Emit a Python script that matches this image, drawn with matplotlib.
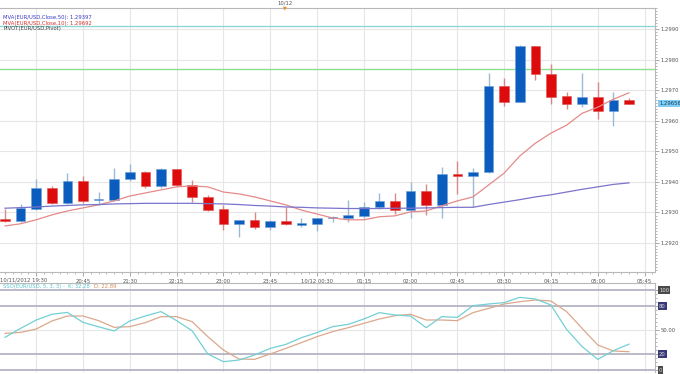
import numpy as np
import matplotlib
matplotlib.use("Agg")
import matplotlib.pyplot as plt
import matplotlib.transforms as mtransforms

# 15 minute EUR/USD candles, 10/11/2012 19:30 -> 10/12/2012 05:30
opens = [1.29279, 1.29272, 1.29312, 1.29381, 1.29330, 1.29403, 1.29341, 1.29341, 1.29409, 1.29432,
         1.29388, 1.29442, 1.29390, 1.29352, 1.29311, 1.29263, 1.29274, 1.29254, 1.29273, 1.29260,
         1.29263, 1.29281, 1.29281, 1.29290, 1.29317, 1.29339, 1.29308, 1.29372, 1.29323, 1.29425,
         1.29421, 1.29432, 1.29715, 1.29662, 1.29845, 1.29753, 1.29681, 1.29654, 1.29677, 1.29633,
         1.29668]
highs = [1.29312, 1.29328, 1.29409, 1.29387, 1.29428, 1.29420, 1.29368, 1.29445, 1.29459, 1.29437,
         1.29445, 1.29444, 1.29407, 1.29358, 1.29325, 1.29275, 1.29303, 1.29274, 1.29319, 1.29282,
         1.29282, 1.29289, 1.29341, 1.29334, 1.29365, 1.29365, 1.29401, 1.29393, 1.29450, 1.29469,
         1.29447, 1.29758, 1.29742, 1.29849, 1.29847, 1.29788, 1.29695, 1.29757, 1.29728, 1.29695,
         1.29676]
lows = [1.29269, 1.29269, 1.29308, 1.29328, 1.29328, 1.29332, 1.29323, 1.29338, 1.29403, 1.29379,
        1.29379, 1.29387, 1.29334, 1.29305, 1.29241, 1.29221, 1.29245, 1.29241, 1.29260, 1.29252,
        1.29238, 1.29270, 1.29270, 1.29282, 1.29312, 1.29295, 1.29281, 1.29292, 1.29281, 1.29361,
        1.29319, 1.29429, 1.29649, 1.29662, 1.29733, 1.29657, 1.29638, 1.29646, 1.29605, 1.29584,
        1.29655]
closes = [1.29272, 1.29314, 1.29381, 1.29330, 1.29403, 1.29338, 1.29343, 1.29409, 1.29432, 1.29388,
          1.29442, 1.29390, 1.29352, 1.29308, 1.29263, 1.29274, 1.29254, 1.29273, 1.29262, 1.29263,
          1.29281, 1.29282, 1.29292, 1.29317, 1.29339, 1.29308, 1.29372, 1.29323, 1.29425, 1.29421,
          1.29432, 1.29715, 1.29662, 1.29845, 1.29753, 1.29679, 1.29654, 1.29677, 1.29633, 1.29668,
          1.29656]

ma10 = [1.29256, 1.29263, 1.29276, 1.29292, 1.29305, 1.29315, 1.29325, 1.29338, 1.29354, 1.29364,
        1.29374, 1.29384, 1.29387, 1.29384, 1.29367, 1.29361, 1.29351, 1.29338, 1.29325, 1.29308,
        1.29295, 1.29282, 1.29276, 1.29276, 1.29286, 1.29289, 1.29302, 1.29305, 1.29322, 1.29338,
        1.29351, 1.29390, 1.29429, 1.29485, 1.29527, 1.29560, 1.29586, 1.29625, 1.29645, 1.29671,
        1.29692]
ma50 = [1.29314, 1.29316, 1.29318, 1.29321, 1.29323, 1.29325, 1.29326, 1.29328, 1.29329, 1.29330,
        1.29330, 1.29330, 1.29330, 1.29329, 1.29328, 1.29326, 1.29323, 1.29321, 1.29318, 1.29317,
        1.29315, 1.29314, 1.29313, 1.29313, 1.29313, 1.29314, 1.29314, 1.29315, 1.29316, 1.29317,
        1.29317, 1.29326, 1.29334, 1.29342, 1.29351, 1.29358, 1.29367, 1.29376, 1.29384, 1.29392,
        1.29397]

pivot_level = 1.29911
resist_level = 1.29769
last_price = 1.29656

stoch_k = [40.8, 52, 62.5, 69.6, 72, 59.6, 54, 48.8, 61.3, 67.5, 73, 61.7, 49, 20, 10.4, 12.5,
           18.75, 27, 32, 40.4, 46.7, 54.2, 57, 63.7, 71.7, 68.75, 67.5, 52.9, 66.7, 65.8, 80.4,
           82.5, 84.2, 90.8, 88.75, 81.25, 50.8, 29.2, 13.3, 24.2, 32.28]
stoch_d = [45.8, 47, 51.2, 61.2, 67.5, 67.5, 61.7, 53.3, 54.2, 59.2, 66.7, 66.7, 60.4, 41.7, 25,
           13.75, 13.3, 20, 27, 34.2, 41.7, 47.9, 52.9, 58.3, 63.75, 67.9, 69.6, 62.5, 62.5, 61.7,
           71.7, 77, 82.5, 85.4, 87.5, 86.25, 73, 52, 31.25, 23.75, 22.89]

tick_idx = [2, 5, 8, 11, 14, 17, 20, 23, 26, 29, 32, 35, 38, 41]
tick_labels = ["", "20:45", "21:30", "22:15", "23:00", "23:45", "10/12 00:30", "01:15",
               "02:00", "02:45", "03:30", "04:15", "05:00", "05:45"]
price_ticks = [1.2920, 1.2930, 1.2940, 1.2950, 1.2960, 1.2970, 1.2980, 1.2990]

W, H = 680, 374
fig = plt.figure(figsize=(W / 100, H / 100), dpi=100)
fig.patch.set_facecolor("white")

def box(x0, y0, x1, y1):
    return [x0 / W, 1 - y1 / H, (x1 - x0) / W, (y1 - y0) / H]

ax = fig.add_axes(box(0, 8, 655, 272))
ax2 = fig.add_axes(box(0, 283, 655, 372))

xs = np.arange(len(closes))
xlim = (-0.32, 41.67)
grid_c = "#e6e6e6"
axis_c = "#9a9a9a"
txt_c = "#555555"
fs = 3.8

# ---- price panel ----
ax.set_xlim(*xlim)
ax.set_ylim(1.29105, 1.29969)
for gx in tick_idx:
    ax.axvline(gx, color=grid_c, lw=0.8, zorder=0)
for gy in price_ticks:
    ax.axhline(gy, color=grid_c, lw=0.8, zorder=0)

ax.axhline(pivot_level, color="#8fd6d6", lw=1.0, zorder=1)
ax.axhline(resist_level, color="#8ee08e", lw=1.0, zorder=1)

o = np.array(opens); c = np.array(closes)
up = c >= o
body_lo = np.minimum(o, c)
body_h = np.maximum(np.abs(c - o), 0.00004)
wick_cols = np.where(up, "#9bbad6", "#d88a8a")
ax.vlines(xs, lows, highs, colors=wick_cols, lw=1.0, zorder=2)
ax.bar(xs, body_h, bottom=body_lo, width=0.62,
       color=np.where(up, "#0a5cbf", "#dd0b0b"),
       edgecolor=np.where(up, "#6e9fd6", "#e05050"), linewidth=0.4, zorder=3)

ax.plot(xs, ma10, color="#e48a8a", lw=0.9, zorder=4)
ax.plot(xs, ma50, color="#7a74cc", lw=0.9, zorder=4)

ax.yaxis.tick_right()
ax.set_yticks(price_ticks)
ax.set_yticklabels([f"{p:.4f}" for p in price_ticks])
ax.set_yticks(np.arange(1.2911, 1.2997, 0.0001), minor=True)
ax.tick_params(axis="y", which="major", length=3, width=0.6, color=axis_c,
               labelsize=fs, labelcolor=txt_c, pad=1)
ax.tick_params(axis="y", which="minor", length=1.5, width=0.5, color=axis_c)
ax.set_xticks(tick_idx)
ax.set_xticklabels(tick_labels)
ax.set_xticks(np.arange(0, 41.7, 0.5), minor=True)
ax.tick_params(axis="x", which="major", length=3, width=0.6, color=axis_c,
               labelsize=fs, labelcolor=txt_c, pad=2)
ax.tick_params(axis="x", which="minor", length=1.5, width=0.5, color=axis_c)
ax.text(-0.3, -0.02, "10/11/2012 19:30",
        transform=mtransforms.blended_transform_factory(ax.transData, ax.transAxes),
        fontsize=fs, color=txt_c, ha="left", va="top")
ax.spines["left"].set_visible(False)
for s in ["top", "right", "bottom"]:
    ax.spines[s].set_color("#b8b8b8")
    ax.spines[s].set_linewidth(0.8)

yt = mtransforms.blended_transform_factory(ax.transAxes, ax.transData)
ax.text(1.006, last_price, "1.29656", transform=yt, fontsize=fs, color="#1a3a5a",
        va="center", ha="left",
        bbox=dict(boxstyle="square,pad=0.2", fc="#7dcff5", ec="none"))

ax.text(0.005, 0.975, "MVA(EUR/USD,Close,50): 1.29397", transform=ax.transAxes,
        fontsize=fs, color="#3a3ac8", va="top")
ax.text(0.005, 0.952, "MVA(EUR/USD,Close,10): 1.29692", transform=ax.transAxes,
        fontsize=fs, color="#d83030", va="top")
ax.text(0.005, 0.93, "PIVOT(EUR/USD,Pivot)", transform=ax.transAxes,
        fontsize=fs, color="#444444", va="top")

# day separator marker on top
fig.text(285 / W, 1 - 3 / H, "10/12", fontsize=fs, color=txt_c, ha="center", va="center")
fig.text(285 / W, 1 - 8 / H, "\u25BC", fontsize=3.5, color="#f08a1c", ha="center", va="center")

# ---- stochastic panel ----
ax2.set_xlim(*xlim)
ax2.set_ylim(-2.5, 108.75)
for gx in tick_idx:
    ax2.axvline(gx, color=grid_c, lw=0.8, zorder=0)
ax2.axhline(50, color=grid_c, lw=0.8, zorder=0)
for lvl in [0, 20, 80, 100]:
    ax2.axhline(lvl, color="#b4b4c4", lw=1.3, zorder=1)
ax2.plot(xs, stoch_k, color="#72d0d4", lw=0.9, zorder=3)
ax2.plot(xs, stoch_d, color="#dba88c", lw=0.9, zorder=2)

ax2.yaxis.tick_right()
ax2.set_yticks([0, 20, 50, 80, 100])
ax2.set_yticklabels(["", "", "50.00", "", ""])
ax2.set_yticks(np.arange(0, 101, 5), minor=True)
ax2.tick_params(axis="y", which="major", length=3, width=0.6, color=axis_c,
                labelsize=fs, labelcolor=txt_c, pad=1)
ax2.tick_params(axis="y", which="minor", length=1.5, width=0.5, color=axis_c)
ax2.set_xticks([])
for s in ["left", "bottom"]:
    ax2.spines[s].set_visible(False)
for s in ["top", "right"]:
    ax2.spines[s].set_color("#b8b8b8")
    ax2.spines[s].set_linewidth(0.8)

yt2 = mtransforms.blended_transform_factory(ax2.transAxes, ax2.transData)
for lvl, lab, bg in [(100, "100", "#4a4a4a"), (80, "80", "#3a3a78"),
                     (20, "20", "#3a3a78"), (0, "0", "#4a4a4a")]:
    ax2.text(1.006, lvl, lab, transform=yt2, fontsize=fs, color="#dddddd",
             va="center", ha="left",
             bbox=dict(boxstyle="square,pad=0.2", fc=bg, ec="none"))

k_txt = ax2.text(0.005, 0.985, "SSO(EUR/USD, 5, 3, 3) -  K: 32.28", transform=ax2.transAxes,
                 fontsize=fs, color="#5cc6cc", va="top")
ax2.annotate("D: 22.89", xy=(1, 0), xycoords=k_txt, xytext=(3, 0),
             textcoords="offset points", fontsize=fs, color="#d58a5c", va="bottom")

fig.savefig("out.png", dpi=100, facecolor="white")
